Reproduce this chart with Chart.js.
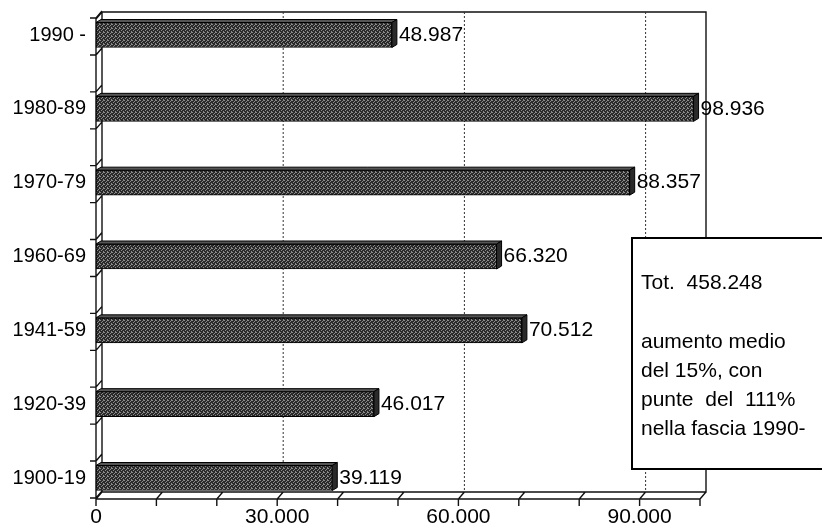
<!DOCTYPE html>
<html><head><meta charset="utf-8">
<script src="https://cdn.jsdelivr.net/npm/chart.js@4"></script>
<style>html,body{margin:0;padding:0;background:#fff;overflow:hidden}</style>
</head><body>
<canvas id="c" width="822" height="530" style="display:block;width:822px;height:530px"></canvas>
<script>
const categories = ["1990 -", "1980-89", "1970-79", "1960-69", "1941-59", "1920-39", "1900-19"];
const values = [48987, 98936, 88357, 66320, 70512, 46017, 39119];
const labeledTicks = [0, 30000, 60000, 90000];
const gridValues = [30000, 60000, 90000];
const axisMax = 100000;
const tickStep = 10000;
const noteLines = ["Tot.  458.248", "", "aumento medio", "del 15%, con", "punte  del  111%", "nella fascia 1990-"];

function fmt(n) { return String(n).replace(/\B(?=(\d{3})+(?!\d))/g, '.'); }

const FAMILY = '"Liberation Sans", Arial, Helvetica, sans-serif';
const DX = 6, DY = -7;

// halftone-like fill for the bars
const pc = document.createElement('canvas');
pc.width = 4; pc.height = 4;
const pctx = pc.getContext('2d');
pctx.fillStyle = '#2a2a2a'; pctx.fillRect(0, 0, 4, 4);
pctx.fillStyle = '#8a8a8a';
[[0,0],[2,1],[1,2],[3,3],[3,0]].forEach(([x, y]) => pctx.fillRect(x, y, 1, 1));
const barPattern = pctx.createPattern(pc, 'repeat');

const frame3d = {
  id: 'frame3d',
  beforeDatasetsDraw(chart) {
    const ctx = chart.ctx, xs = chart.scales.x, ys = chart.scales.y, a = chart.chartArea;
    const x0 = xs.getPixelForValue(0), x1 = xs.getPixelForValue(axisMax);
    const floorF = a.bottom + 21;
    const topB = a.top - 23;
    ctx.save();
    ctx.strokeStyle = '#111';
    ctx.lineWidth = 1.4;
    ctx.beginPath();
    ctx.moveTo(x0 + DX, floorF + DY); ctx.lineTo(x0 + DX, topB);
    ctx.lineTo(x1 + DX, topB); ctx.lineTo(x1 + DX, floorF + DY);
    ctx.lineTo(x0 + DX, floorF + DY);
    ctx.moveTo(x0, floorF); ctx.lineTo(x0, topB - DY); ctx.lineTo(x0 + DX, topB);
    ctx.moveTo(x0, floorF); ctx.lineTo(x1, floorF); ctx.lineTo(x1 + DX, floorF + DY);
    for (let v = 0; v <= axisMax; v += tickStep) {
      const px = xs.getPixelForValue(v);
      ctx.moveTo(px, floorF + 7); ctx.lineTo(px, floorF); ctx.lineTo(px + DX, floorF + DY);
    }
    categories.forEach((c, i) => {
      const cy = ys.getPixelForValue(i);
      [cy - 17, cy + 20].forEach(y => {
        ctx.moveTo(x0 - 6, y); ctx.lineTo(x0, y); ctx.lineTo(x0 + DX, y + DY);
      });
    });
    ctx.stroke();
    ctx.beginPath();
    ctx.setLineDash([2, 2]);
    ctx.lineWidth = 1;
    ctx.strokeStyle = '#333';
    gridValues.forEach(v => {
      const px = xs.getPixelForValue(v) + DX;
      ctx.moveTo(px, topB); ctx.lineTo(px, floorF + DY);
    });
    ctx.stroke();
    ctx.restore();
  },
  afterDatasetsDraw(chart) {
    const ctx = chart.ctx;
    const meta = chart.getDatasetMeta(0);
    ctx.save();
    ctx.strokeStyle = '#000';
    ctx.lineWidth = 1;
    meta.data.forEach((bar, i) => {
      const p = bar.getProps(['x', 'y', 'base', 'height'], true);
      const top = p.y - p.height / 2, bottom = p.y + p.height / 2;
      const dx = 5, dy = -3;
      ctx.beginPath();
      ctx.moveTo(p.base, top); ctx.lineTo(p.base + dx, top + dy);
      ctx.lineTo(p.x + dx, top + dy); ctx.lineTo(p.x, top); ctx.closePath();
      ctx.fillStyle = '#555'; ctx.fill(); ctx.stroke();
      ctx.beginPath();
      ctx.moveTo(p.x, top); ctx.lineTo(p.x + dx, top + dy);
      ctx.lineTo(p.x + dx, bottom + dy); ctx.lineTo(p.x, bottom); ctx.closePath();
      ctx.fillStyle = '#2a2a2a'; ctx.fill(); ctx.stroke();
      ctx.fillStyle = '#000';
      ctx.font = '21px ' + FAMILY;
      ctx.textAlign = 'left';
      ctx.textBaseline = 'middle';
      ctx.fillText(fmt(values[i]), p.x + 7, p.y);
    });
    ctx.restore();
  },
  afterDraw(chart) {
    const ctx = chart.ctx;
    ctx.save();
    ctx.fillStyle = '#fff';
    ctx.fillRect(632, 238, 200, 231);
    ctx.strokeStyle = '#000';
    ctx.lineWidth = 2;
    ctx.strokeRect(632, 238, 200, 231);
    ctx.fillStyle = '#000';
    ctx.font = '21px ' + FAMILY;
    ctx.textAlign = 'left';
    ctx.textBaseline = 'middle';
    const ys = [283, 312, 342, 371, 400, 429];
    noteLines.forEach((t, i) => { if (t) ctx.fillText(t, 641, ys[i]); });
    ctx.restore();
  }
};

new Chart(document.getElementById('c'), {
  type: 'bar',
  data: {
    labels: categories,
    datasets: [{
      data: values,
      backgroundColor: barPattern,
      borderColor: '#000',
      borderWidth: 1,
      barThickness: 25,
      borderSkipped: false,
      clip: false
    }]
  },
  options: {
    indexAxis: 'y',
    responsive: false,
    animation: false,
    devicePixelRatio: 1,
    layout: { padding: { top: 35, right: 122, left: 0, bottom: 0 } },
    plugins: { legend: { display: false }, tooltip: { enabled: false } },
    scales: {
      x: {
        type: 'linear', min: 0, max: axisMax,
        grid: { display: false, drawTicks: false, tickLength: 0 },
        border: { display: false },
        ticks: {
          stepSize: tickStep, autoSkip: false, maxRotation: 0, padding: 27,
          color: '#000', font: { family: FAMILY, size: 21 },
          callback: v => labeledTicks.includes(v) ? fmt(v) : ''
        },
        afterFit: s => { s.height = 52; }
      },
      y: {
        type: 'category', offset: false,
        grid: { display: false, drawTicks: false, tickLength: 0 },
        border: { display: false },
        ticks: { padding: 10, color: '#000', font: { family: FAMILY, size: 20 } },
        afterFit: s => { s.width = 96; }
      }
    }
  },
  plugins: [frame3d]
});
</script>
</body></html>
